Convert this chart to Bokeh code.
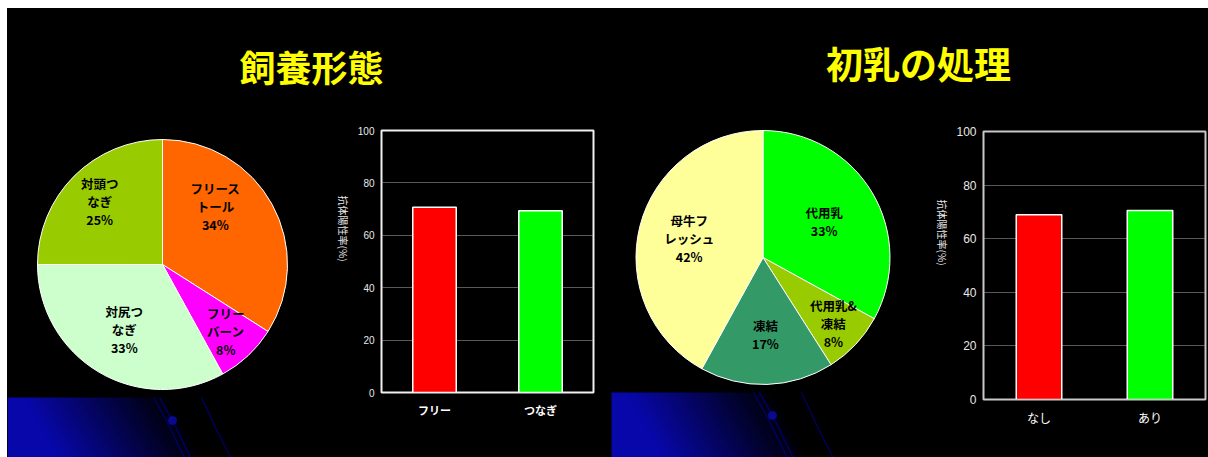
import numpy as np
from bokeh.plotting import figure
from bokeh.layouts import row, column, Spacer
from bokeh.models import Range1d, FactorRange, Label, ColumnDataSource, FixedTicker
from bokeh.embed import file_html
from bokeh.resources import INLINE
from bokeh.core.properties import value

# ---------------- data ----------------
title1 = "飼養形態"
title2 = "初乳の処理"

pie1_labels = ["フリース\nトール", "フリー\nバーン", "対尻つ\nなぎ", "対頭つ\nなぎ"]
pie1_values = [34, 8, 33, 25]
pie1_colors = ["#ff6600", "#ff00ff", "#ccffcc", "#99cc00"]

pie2_labels = ["代用乳", "代用乳&\n凍結", "凍結", "母牛フ\nレッシュ"]
pie2_values = [33, 8, 17, 42]
pie2_colors = ["#00ff00", "#99cc00", "#339966", "#ffff99"]

bar1_cats = ["フリー", "つなぎ"]
bar1_values = [70.7, 69.4]
bar2_cats = ["なし", "あり"]
bar2_values = [68.9, 70.5]
bar_colors = ["#ff0000", "#00ff00"]

y_label = "抗体陽性率(%)"
y_ticks = [0, 20, 40, 60, 80, 100]

# ---------------- layout constants ----------------
JP = "Noto Sans CJK JP"
ROW_H = 342
TITLE_H = 107
BG = "black"
BLACK_STYLE = {"background-color": "black"}


def base_fig(width, height):
    p = figure(width=width, height=height, x_range=Range1d(0, width), y_range=Range1d(0, height),
               output_backend="svg", toolbar_location=None, min_border=0,
               x_axis_type=None, y_axis_type=None)
    p.background_fill_color = BG
    p.border_fill_color = BG
    p.outline_line_color = None
    p.grid.visible = False
    return p


def blue_grad(w, h):
    xs = np.arange(w)[None, :].astype(float)
    ys = np.arange(h)[:, None].astype(float)  # row 0 = bottom
    t = np.clip(1.35 - xs / (w * 0.75) - (ys / h) * 0.25, 0, 1)
    img = np.zeros((h, w), dtype=np.uint32)
    view = img.view(dtype=np.uint8).reshape((h, w, 4))
    view[:, :, 0] = (8 * t).astype(np.uint8)
    view[:, :, 1] = (8 * t).astype(np.uint8)
    view[:, :, 2] = (170 * t).astype(np.uint8)
    view[:, :, 3] = 255
    return img


def decoration(p, gx, gw, gh, ox):
    # slide-template ornament: blue gradient with thin orbit lines and a dot
    p.image_rgba(image=[blue_grad(gw, gh)], x=gx, y=0, dw=gw, dh=gh)
    p.line(x=[ox, ox + 14, ox + 36], y=[gh, gh - 25, gh - 70], line_color="#00007a", line_width=1.2)
    p.line(x=[ox + 6, ox + 20, ox + 42], y=[gh, gh - 25, gh - 70], line_color="#00007a", line_width=1.2)
    p.line(x=[ox + 48, ox + 62, ox + 82], y=[gh, gh - 30, gh - 70], line_color="#00006a", line_width=1.2)
    p.scatter(x=[ox + 19], y=[gh - 23], size=8, fill_color="#0a0a90", line_color="#0a0a90")


def pie_fig(width, cx, cy, r, values, colors, labels, rfrac, shift_deg, grad):
    p = base_fig(width, ROW_H)
    decoration(p, *grad)
    frac = np.array(values, dtype=float) / sum(values)
    cum = np.concatenate([[0.0], np.cumsum(frac)])
    start = np.pi / 2 - 2 * np.pi * cum[:-1]
    end = np.pi / 2 - 2 * np.pi * cum[1:]
    src = ColumnDataSource(dict(start=start, end=end, color=colors))
    p.wedge(x=cx, y=cy, radius=r, start_angle="start", end_angle="end", direction="clock",
            fill_color="color", line_color="white", line_width=1, source=src)
    mid = 2 * np.pi * (cum[:-1] + frac / 2) + np.radians(shift_deg)
    lx = cx + np.array(rfrac) * r * np.sin(mid)
    ly = cy + np.array(rfrac) * r * np.cos(mid)
    texts = [f"{l}\n{v}%" for l, v in zip(labels, values)]
    p.text(x=lx, y=ly, text=texts, text_align="center", text_baseline="middle",
           text_font=value(JP), text_font_style="bold", text_font_size="12.5px",
           text_line_height=0.95, text_color="black")
    return p


def bar_fig(width, cats, vals, bl, br, bt, bb, tick_size, cat_size, cat_bold, frame_col, lab_standoff):
    p = figure(width=width, height=ROW_H, x_range=FactorRange(*cats), y_range=Range1d(0, 100),
               output_backend="svg", toolbar_location=None,
               min_border_left=bl, min_border_right=br, min_border_top=bt, min_border_bottom=bb)
    p.background_fill_color = BG
    p.border_fill_color = BG
    p.outline_line_color = frame_col
    p.outline_line_width = 2
    src = ColumnDataSource(dict(x=cats, top=vals, color=bar_colors))
    p.vbar(x="x", top="top", width=0.41, fill_color="color", line_color="white",
           line_width=1.5, source=src)
    p.xgrid.visible = False
    p.ygrid.grid_line_color = "#b0b0b0"
    p.ygrid.grid_line_dash = "1 1"
    p.ygrid.grid_line_width = 1
    p.yaxis.ticker = FixedTicker(ticks=y_ticks)
    for ax in (p.xaxis, p.yaxis):
        ax.axis_line_color = frame_col
        ax.axis_line_width = 1
        ax.major_tick_line_color = None
        ax.minor_tick_line_color = None
        ax.major_tick_out = 0
        ax.major_tick_in = 0
    p.yaxis.major_label_text_font = "Liberation Sans"
    p.yaxis.major_label_text_font_size = tick_size
    p.yaxis.major_label_text_color = "#e8e8e8"
    p.yaxis.major_label_standoff = 7
    p.yaxis.axis_label = y_label
    p.yaxis.axis_label_text_font = JP
    p.yaxis.axis_label_text_font_size = "10px"
    p.yaxis.axis_label_text_font_style = "normal"
    p.yaxis.axis_label_text_color = "#e8e8e8"
    p.yaxis.axis_label_standoff = lab_standoff
    try:
        p.yaxis.axis_label_orientation = -np.pi / 2
    except Exception:
        pass
    p.xaxis.major_label_text_font = JP
    p.xaxis.major_label_text_font_size = cat_size
    p.xaxis.major_label_text_font_style = "bold" if cat_bold else "normal"
    p.xaxis.major_label_text_color = "white"
    p.xaxis.major_label_standoff = 9
    return p


# title band (origin at page x=7, y=8)
tfig = base_fig(1201, TITLE_H)
tfig.add_layout(Label(x=304, y=TITLE_H - 57, text=title1, text_align="center", text_baseline="middle",
                      text_font=JP, text_font_style="bold", text_font_size="36px",
                      text_color="#ffff00"))
tfig.add_layout(Label(x=911, y=TITLE_H - 54, text=title2, text_align="center", text_baseline="middle",
                      text_font=JP, text_font_style="bold", text_font_size="37px",
                      text_color="#ffff00"))

pie1 = pie_fig(318, 155, 193, 125, pie1_values, pie1_colors, pie1_labels,
               [0.63, 0.74, 0.6, 0.71], [-19, 0, 0, 0], (0, 195, 60, 146))
bar1 = bar_fig(285, bar1_cats, bar1_values, 56, 17, 15, 65, "10px", "11px", True, "#f0f0f0", 11)
pie2 = pie_fig(314, 152.5, 200, 127, pie2_values, pie2_colors, pie2_labels,
               [0.56, 0.76, 0.61, 0.6], [0, 0, 0, 0], (1, 195, 65, 143))
bar2 = bar_fig(284, bar2_cats, bar2_values, 59, 3, 16, 58, "12px", "12px", False, "#c8c8c8", 11)

strip = row(column(pie1), column(bar1), column(pie2), column(bar2), styles=BLACK_STYLE)
inner = column(tfig, strip, styles=BLACK_STYLE)
layout = column(Spacer(height=8), row(Spacer(width=7), inner))

open("out.html", "w").write(file_html(layout, INLINE))
